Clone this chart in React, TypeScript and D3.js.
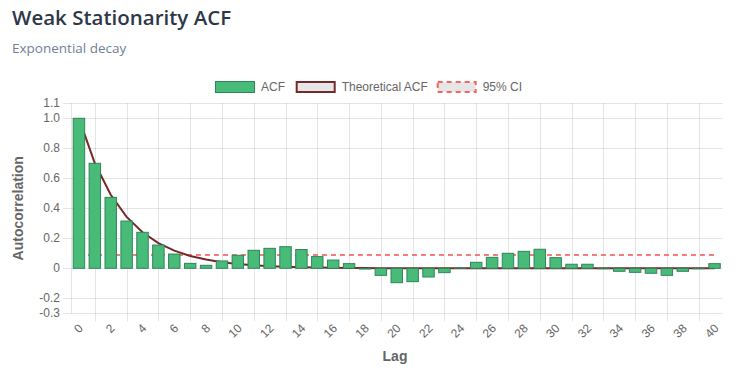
import React from "react";
import * as d3 from "d3";

const lags: string[] = ["0","1","2","3","4","5","6","7","8","9","10","11","12","13","14","15","16","17","18","19","20","21","22","23","24","25","26","27","28","29","30","31","32","33","34","35","36","37","38","39","40"];

const acfValues: number[] = [1.0, 0.70, 0.473, 0.315, 0.24, 0.155, 0.095, 0.033, 0.02, 0.049, 0.087, 0.12, 0.133, 0.144, 0.125, 0.078, 0.055, 0.031, -0.005, -0.047, -0.096, -0.089, -0.058, -0.029, 0.002, 0.04, 0.073, 0.10, 0.113, 0.127, 0.071, 0.027, 0.027, -0.003, -0.02, -0.027, -0.033, -0.047, -0.02, -0.003, 0.031];

const theoreticalValues: number[] = [1, 0.7, 0.49, 0.343, 0.24, 0.168, 0.118, 0.082, 0.058, 0.04, 0.028, 0.02, 0.014, 0.01, 0.007, 0.005, 0.003, 0.002, 0.002, 0.001, 0.001, 0.001, 0.001, 0, 0, 0, 0, 0, 0, 0, 0, 0, 0, 0, 0, 0, 0, 0, 0, 0, 0];

const ciUpper = 0.088;

const yTickValues: number[] = [1.1, 1.0, 0.8, 0.6, 0.4, 0.2, 0, -0.2, -0.3];
const yTickLabels: string[] = ["1.1", "1.0", "0.8", "0.6", "0.4", "0.2", "0", "-0.2", "-0.3"];
const xTickLabels: string[] = ["0","2","4","6","8","10","12","14","16","18","20","22","24","26","28","30","32","34","36","38","40"];

const legendLabels: string[] = ["ACF", "Theoretical ACF", "95% CI"];

const W = 737;
const H = 372;
const left = 71;
const right = 722.5;
const top = 103.3;
const bottom = 313.3;

const FONT = "'Liberation Sans', Arial, Helvetica, sans-serif";
const GRID = "rgba(0,0,0,0.1)";
const TXT = "#666";

export default function App() {
  const x = d3.scaleBand<string>().domain(lags).range([left, right]).paddingInner(0.28).paddingOuter(0.14);
  const cx = (l: string) => (x(l) as number) + x.bandwidth() / 2;
  const y = d3.scaleLinear().domain([-0.3, 1.1]).range([bottom, top]);
  const crisp = (v: number) => Math.round(v) + 0.5;

  const theoLine = d3.line<number>().x((_, i) => cx(lags[i])).y((d) => y(d))(theoreticalValues) || "";
  const ciLine = d3.line<string>().x((l) => cx(l)).y(() => y(ciUpper))(lags) || "";

  const vGrid: number[] = [];
  for (let i = 1; i < xTickLabels.length; i++) {
    vGrid.push((cx(xTickLabels[i]) + cx(xTickLabels[i - 1])) / 2);
  }

  const legendX = [215, 295.7, 436.7];
  const legendY = 81;

  return (
    <svg width={W} height={H} style={{ position: "absolute", left: 0, top: 0, background: "#fff" }}>
      <text x={12} y={25} fontFamily="'Open Sans', 'Noto Sans', sans-serif" fontWeight={600} fontSize={20.5} fill="#2d3748">Weak Stationarity ACF</text>
      <text x={12} y={52.5} fontFamily="'Open Sans', 'Noto Sans', sans-serif" fontSize={13.5} fill="#718096">Exponential decay</text>

      <g fontFamily={FONT} fontSize={12} fill={TXT}>
        <rect x={legendX[0] + 0.5} y={legendY + 0.5} width={39} height={11} fill="#48bb78" stroke="#2f855a" strokeWidth={1} />
        <text x={legendX[0] + 46} y={legendY + 6} dominantBaseline="central">{legendLabels[0]}</text>
        <rect x={legendX[1] + 1} y={legendY + 1} width={38} height={10} fill="#e6e6e6" stroke="#742a2a" strokeWidth={2} />
        <text x={legendX[1] + 46} y={legendY + 6} dominantBaseline="central">{legendLabels[1]}</text>
        <rect x={legendX[2] + 1} y={legendY + 1} width={38} height={10} fill="#e6e6e6" stroke="#f56565" strokeWidth={2} strokeDasharray="5,4" />
        <text x={legendX[2] + 46} y={legendY + 6} dominantBaseline="central">{legendLabels[2]}</text>
      </g>

      {yTickValues.map((v, i) => (
        <line key={"hg" + i} x1={left - 8} x2={right} y1={crisp(y(v))} y2={crisp(y(v))} stroke={GRID} strokeWidth={1} />
      ))}
      {vGrid.map((gx, i) => (
        <line key={"vg" + i} x1={crisp(gx)} x2={crisp(gx)} y1={top} y2={bottom + 8} stroke={GRID} strokeWidth={1} />
      ))}
      <line x1={crisp(left)} x2={crisp(left)} y1={top} y2={bottom} stroke={GRID} strokeWidth={1} />

      <g fontFamily={FONT} fontSize={12} fill={TXT} textAnchor="end">
        {yTickValues.map((v, i) => (
          <text key={"yt" + i} x={60} y={y(v)} dominantBaseline="central">{yTickLabels[i]}</text>
        ))}
      </g>

      <g fontFamily={FONT} fontSize={12} fill={TXT} textAnchor="end">
        {xTickLabels.map((l, i) => (
          <text key={"xt" + i} transform={`translate(${cx(l) + 2},${bottom + 13}) rotate(-45)`} dominantBaseline="central">{l}</text>
        ))}
      </g>

      <text x={395} y={361} textAnchor="middle" fontFamily={FONT} fontSize={14} fontWeight="bold" fill={TXT}>Lag</text>
      <text transform={`translate(23,${(top + bottom) / 2}) rotate(-90)`} textAnchor="middle" fontFamily={FONT} fontSize={14} fontWeight="bold" fill={TXT}>Autocorrelation</text>

      <path d={ciLine} fill="none" stroke="#f56565" strokeOpacity={0.85} strokeWidth={2} strokeDasharray="5,4" />
      <path d={theoLine} fill="none" stroke="#742a2a" strokeWidth={2} />

      {acfValues.map((v, i) => {
        const y0 = y(0);
        const y1 = y(v);
        return (
          <rect key={"b" + i} x={x(lags[i]) as number} width={x.bandwidth()} y={Math.min(y0, y1)} height={Math.abs(y1 - y0)} fill="#48bb78" stroke="#2f855a" strokeWidth={1} />
        );
      })}
    </svg>
  );
}
